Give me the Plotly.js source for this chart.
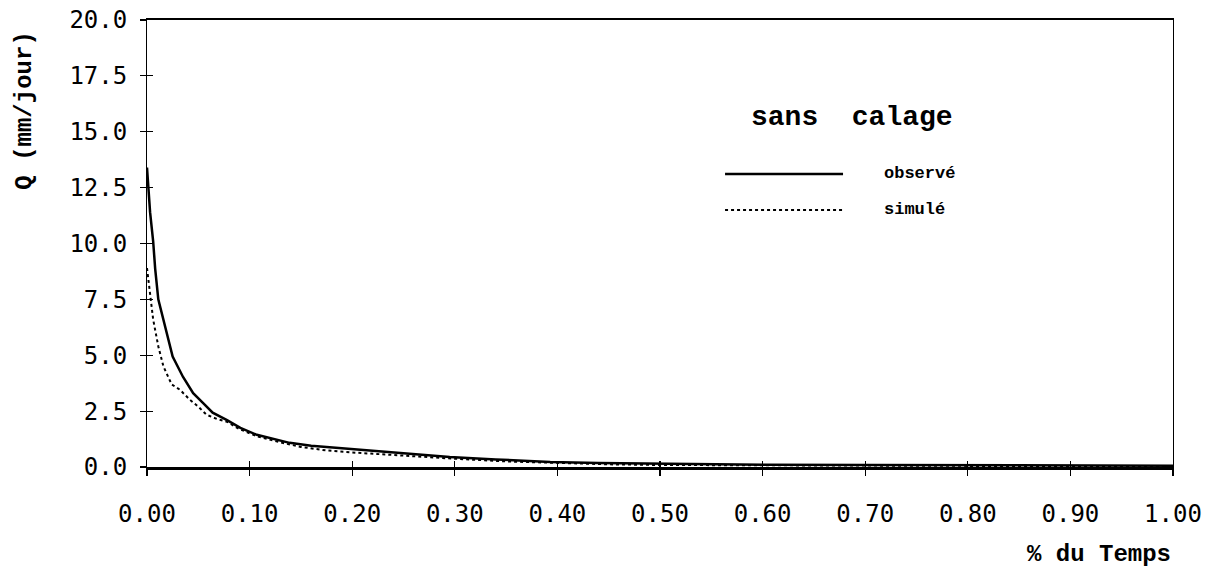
<!DOCTYPE html>
<html>
<head>
<meta charset="utf-8">
<script src="https://cdn.plot.ly/plotly-3.0.1.min.js"></script>
<style>html,body{margin:0;padding:0;background:#fff;}#chart{width:1213px;height:571px;}</style>
</head>
<body>
<div id="chart"></div>
<script>
// Flow duration curves ("sans calage")
const obsTime = [0, 0.003, 0.006, 0.008, 0.011, 0.016, 0.025, 0.035, 0.045, 0.055, 0.064, 0.078, 0.091, 0.107, 0.125, 0.139, 0.16, 0.188, 0.22, 0.25, 0.295, 0.34, 0.393, 0.44, 0.49, 0.55, 0.6, 0.7, 0.8, 0.9, 1.0];
const obsQ    = [13.4, 11.4, 10.1, 8.85, 7.5, 6.6, 4.94, 4.04, 3.3, 2.85, 2.43, 2.1, 1.75, 1.44, 1.22, 1.08, 0.95, 0.85, 0.72, 0.6, 0.45, 0.34, 0.22, 0.18, 0.15, 0.12, 0.1, 0.09, 0.08, 0.07, 0.06];
const simTime = [0, 0.003, 0.006, 0.011, 0.016, 0.024, 0.032, 0.042, 0.05, 0.058, 0.068, 0.078, 0.09, 0.107, 0.13, 0.15, 0.175, 0.2, 0.25, 0.3, 0.35, 0.4, 0.45, 0.5, 0.6, 0.7, 0.8, 0.9, 1.0];
const simQ    = [8.9, 7.8, 6.6, 5.4, 4.5, 3.7, 3.46, 3.0, 2.7, 2.34, 2.15, 2.02, 1.7, 1.38, 1.1, 0.9, 0.74, 0.65, 0.5, 0.37, 0.25, 0.17, 0.12, 0.09, 0.07, 0.06, 0.05, 0.05, 0.05];
const seriesNames = ["observé", "simulé"];
const chartTitle = "sans  calage";
const xTitle = "% du Temps";
const yTitle = "Q (mm/jour)";

const tickFont = {family: "DejaVu Sans Mono", size: 24, color: "#000"};
const traces = [
  {x: obsTime, y: obsQ, mode: "lines", name: seriesNames[0], line: {color: "#000", width: 2.5}, showlegend: false},
  {x: simTime, y: simQ, mode: "lines", name: seriesNames[1], line: {color: "#000", width: 2, dash: "dot"}, showlegend: false},
  {x: [0], y: [0], xaxis: "x2", yaxis: "y2", mode: "markers", marker: {opacity: 0}, showlegend: false, hoverinfo: "skip"}
];

// legend positions in paper coords
const lgX0 = 0.5634, lgX1 = 0.6784, lgTx = 0.716;
const lgY = [0.6555, 0.575];

const layout = {
  width: 1213, height: 571,
  margin: {l: 147, r: 40, t: 20, b: 104},
  paper_bgcolor: "#fff", plot_bgcolor: "#fff",
  showlegend: false,
  xaxis: {range: [0, 1], dtick: 0.1, tick0: 0, tickformat: ".2f", ticks: "outside", ticklen: 6, tickwidth: 1.2, tickcolor: "#000",
          showline: true, linewidth: 2.5, linecolor: "#000", mirror: true, showgrid: false, zeroline: false,
          tickfont: tickFont, ticklabelstandoff: 18},
  yaxis: {range: [0, 20], dtick: 2.5, tick0: 0, tickformat: ".1f", ticks: "outside", ticklen: 6, tickwidth: 1.2, tickcolor: "#000",
          showline: true, linewidth: 1, linecolor: "#000", mirror: true, showgrid: false, zeroline: false,
          tickfont: tickFont, ticklabelstandoff: 8},
  xaxis2: {range: [0, 1], dtick: 0.1, tick0: 0, ticks: "inside", ticklen: 6, tickwidth: 1.2, tickcolor: "#000",
           showticklabels: false, showline: false, showgrid: false, zeroline: false, overlaying: "x", anchor: "y2"},
  yaxis2: {range: [0, 20], dtick: 2.5, tick0: 0, ticks: "inside", ticklen: 6, tickwidth: 1.2, tickcolor: "#000",
           showticklabels: false, showline: false, showgrid: false, zeroline: false, overlaying: "y", anchor: "x2", side: "left"},
  shapes: [
    {type: "line", xref: "paper", yref: "paper", x0: lgX0, x1: lgX1, y0: lgY[0], y1: lgY[0], line: {color: "#000", width: 2.5}},
    {type: "line", xref: "paper", yref: "paper", x0: lgX0, x1: lgX1, y0: lgY[1], y1: lgY[1], line: {color: "#000", width: 2, dash: "dot"}}
  ],
  annotations: [
    {text: chartTitle, xref: "paper", yref: "paper", x: 0.687, y: 0.781, xanchor: "center", yanchor: "middle", showarrow: false,
     font: {family: "Liberation Mono", size: 28, color: "#000", weight: "bold"}},
    {text: seriesNames[0], xref: "paper", yref: "paper", x: lgTx, y: lgY[0], xanchor: "left", yanchor: "middle", showarrow: false,
     font: {family: "Liberation Mono", size: 17, color: "#000", weight: "bold"}},
    {text: seriesNames[1], xref: "paper", yref: "paper", x: lgTx, y: lgY[1], xanchor: "left", yanchor: "middle", showarrow: false,
     font: {family: "Liberation Mono", size: 17, color: "#000", weight: "bold"}},
    {text: xTitle, xref: "paper", yref: "paper", x: 1.0, y: -0.195, xanchor: "right", yanchor: "middle", showarrow: false,
     font: {family: "Liberation Mono", size: 24, color: "#000", weight: "bold"}},
    {text: yTitle, xref: "paper", yref: "paper", x: -0.119, y: 0.797, xanchor: "center", yanchor: "middle", textangle: -90, showarrow: false,
     font: {family: "Liberation Mono", size: 24, color: "#000", weight: "bold"}}
  ]
};

Plotly.newPlot("chart", traces, layout, {staticPlot: true, displayModeBar: false});
</script>
</body>
</html>
